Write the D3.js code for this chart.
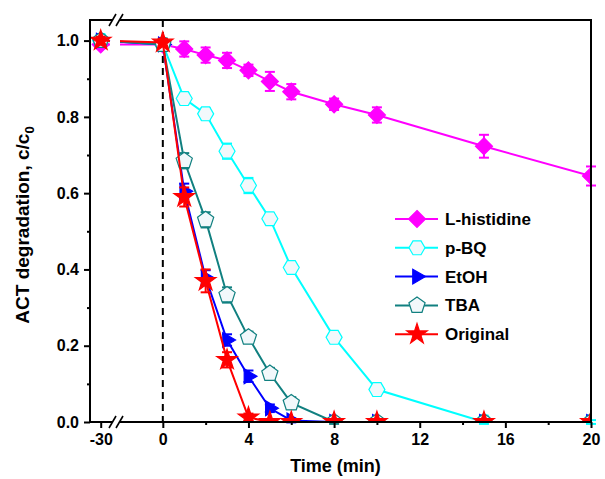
<!DOCTYPE html>
<head>
  <meta charset="utf-8">
  <script src="https://d3js.org/d3.v7.min.js"></script>
</head>
<body>
  <div id="chart"></div>

  <script>
    var width = 605;
    var height = 479;

    // sampling times (min), -30 is the dark adsorption point before the break
    var times = [-30, 0, 1, 2, 3, 4, 5, 6, 8, 10, 15, 20];

    // c/c0 for each scavenger
    var lhis = [0.99, 0.99, 0.978, 0.962, 0.948, 0.922, 0.893, 0.866, 0.833, 0.805, 0.723, 0.645];
    var pbq  = [1.0, 0.99, 0.848, 0.808, 0.71, 0.62, 0.533, 0.405, 0.222, 0.085, 0.0, 0.0];
    var etoh = [1.0, 0.99, 0.605, 0.378, 0.215, 0.12, 0.036, 0.004, 0.0, 0.0, 0.0, 0.0];
    var tba  = [1.0, 0.99, 0.685, 0.53, 0.333, 0.222, 0.127, 0.05, 0.0, 0.0, 0.0, 0.0];
    var orig = [1.0, 0.995, 0.59, 0.37, 0.163, 0.012, 0.0, 0.0, 0.0, 0.0, 0.0, 0.0];

    // error bars (+/-)
    var lhisErr = [0.01, 0.01, 0.02, 0.02, 0.02, 0.015, 0.025, 0.02, 0.015, 0.02, 0.03, 0.025];
    var pbqErr  = [0.01, 0.01, 0.015, 0.015, 0.02, 0.02, 0.015, 0.01, 0.01, 0.015, 0.005, 0.005];
    var etohErr = [0.01, 0.01, 0.02, 0.02, 0.015, 0.015, 0.01, 0.005, 0, 0, 0, 0];
    var tbaErr  = [0.01, 0.01, 0.02, 0.02, 0.02, 0.015, 0.015, 0.015, 0.005, 0, 0, 0];
    var origErr = [0.01, 0.01, 0.025, 0.03, 0.02, 0.01, 0, 0, 0, 0, 0, 0];

    var seriesNames = ['L-histidine', 'p-BQ', 'EtOH', 'TBA', 'Original'];

    var yTicks = [0, 0.2, 0.4, 0.6, 0.8, 1.0];
    var yMinor = [0.1, 0.3, 0.5, 0.7, 0.9];
    var xTicks = [0, 4, 8, 12, 16, 20];
    var xMinor = [2, 6, 10, 14, 18];
    var xLeftTicks = [-30];

    var series = [
      {name: seriesNames[0], vals: lhis, err: lhisErr, color: '#ff00ff', fill: '#ff00ff', shape: 'diamond'},
      {name: seriesNames[1], vals: pbq,  err: pbqErr,  color: '#00ffff', fill: '#f2f8fb', shape: 'hexagon'},
      {name: seriesNames[2], vals: etoh, err: etohErr, color: '#0000ff', fill: '#0000ff', shape: 'triangle'},
      {name: seriesNames[3], vals: tba,  err: tbaErr,  color: '#118080', fill: '#f2f8fb', shape: 'pentagon'},
      {name: seriesNames[4], vals: orig, err: origErr, color: '#ff0000', fill: '#ff0000', shape: 'star'}
    ];

    // plot box
    var pLeft = 90, pRight = 591, pTop = 20, pBottom = 422;

    // broken x axis: two linear pieces
    var xL = d3.scaleLinear().domain([-30.5, -29.45]).range([pLeft, pLeft + 22.5]);
    var xR = d3.scaleLinear().domain([-2, 20]).range([120, pRight]);
    var X = t => t < -10 ? xL(t) : xR(t);
    var y = d3.scaleLinear().domain([0, 1.054]).range([pBottom, pTop]);

    var svg = d3.select('#chart').append('svg')
      .attr('width', width).attr('height', height)
      .style('background', '#fff');

    // polygon markers
    function poly(n, r, rot) {
      var pts = d3.range(n).map(i => {
        var a = rot + i * 2 * Math.PI / n;
        return [r * Math.cos(a), r * Math.sin(a)];
      });
      return 'M' + pts.join('L') + 'Z';
    }
    function markerPath(shape) {
      if (shape == 'diamond') return poly(4, 8.5, -Math.PI / 2);
      if (shape == 'hexagon') return poly(6, 8, 0);
      if (shape == 'triangle') return poly(3, 8.5, 0);
      if (shape == 'pentagon') return poly(5, 8.5, -Math.PI / 2);
      return d3.symbol().type(d3.symbolStar).size(130)();
    }

    // clip out the break gap (lines) and the plot box (markers)
    var defs = svg.append('defs');
    var clip = defs.append('clipPath').attr('id', 'brk');
    clip.append('rect').attr('x', pLeft).attr('y', 0).attr('width', 20).attr('height', height);
    clip.append('rect').attr('x', 120).attr('y', 0).attr('width', pRight - 120).attr('height', height);
    defs.append('clipPath').attr('id', 'box')
      .append('rect').attr('x', pLeft).attr('y', pTop)
      .attr('width', pRight - pLeft).attr('height', pBottom - pTop);

    // dashed line at t = 0
    svg.append('line')
      .attr('x1', xR(0)).attr('x2', xR(0))
      .attr('y1', pTop).attr('y2', pBottom)
      .attr('stroke', '#000').attr('stroke-width', 2)
      .attr('stroke-dasharray', '7,5');

    var line = d3.line().x(d => X(d.t)).y(d => y(d.v));

    series.forEach(function(s) {
      var pts = times.map((t, i) => ({t: t, v: s.vals[i], e: s.err[i]}));
      var g = svg.append('g');

      g.append('path')
        .datum(pts)
        .attr('d', line)
        .attr('fill', 'none')
        .attr('stroke', s.color)
        .attr('stroke-width', 2)
        .attr('clip-path', 'url(#brk)');

      // error bars
      var eb = g.selectAll('.eb').data(pts.filter(d => d.e > 0)).join('g');
      eb.append('line')
        .attr('x1', d => X(d.t)).attr('x2', d => X(d.t))
        .attr('y1', d => y(d.v - d.e)).attr('y2', d => y(d.v + d.e))
        .attr('stroke', s.color).attr('stroke-width', 2);
      [-1, 1].forEach(function(sg) {
        eb.append('line')
          .attr('x1', d => X(d.t) - 5).attr('x2', d => X(d.t) + 5)
          .attr('y1', d => y(d.v + sg * d.e)).attr('y2', d => y(d.v + sg * d.e))
          .attr('stroke', s.color).attr('stroke-width', 2);
      });

      g.append('g').attr('clip-path', 'url(#box)')
        .selectAll('path').data(pts).join('path')
        .attr('transform', d => 'translate(' + X(d.t) + ',' + y(d.v) + ')')
        .attr('d', markerPath(s.shape))
        .attr('fill', s.fill)
        .attr('stroke', s.color)
        .attr('stroke-width', 1.2);
    });

    // frame
    svg.append('rect')
      .attr('x', pLeft).attr('y', pTop)
      .attr('width', pRight - pLeft).attr('height', pBottom - pTop)
      .attr('fill', 'none').attr('stroke', '#000').attr('stroke-width', 2);

    var tickFont = g => g.selectAll('text')
      .attr('font-family', 'Liberation Sans, Arial, sans-serif')
      .attr('font-weight', 'bold').attr('font-size', 16).attr('fill', '#000');

    // y axis
    svg.append('g').attr('transform', 'translate(' + pLeft + ',0)')
      .call(d3.axisLeft(y).tickValues(yTicks).tickSize(6).tickPadding(5).tickFormat(d3.format('.1f')))
      .call(g => g.select('.domain').remove())
      .call(g => g.selectAll('line').attr('stroke-width', 2))
      .call(tickFont);
    svg.append('g').attr('transform', 'translate(' + pLeft + ',0)')
      .call(d3.axisLeft(y).tickValues(yMinor).tickSize(3).tickFormat(''))
      .call(g => g.select('.domain').remove())
      .call(g => g.selectAll('line').attr('stroke-width', 2));

    // x axis, both pieces
    [[xR, xTicks], [xL, xLeftTicks]].forEach(function(p) {
      svg.append('g').attr('transform', 'translate(0,' + pBottom + ')')
        .call(d3.axisBottom(p[0]).tickValues(p[1]).tickSize(6).tickPadding(6).tickFormat(d => String(d)))
        .call(g => g.select('.domain').remove())
        .call(g => g.selectAll('line').attr('stroke-width', 2))
        .call(tickFont);
    });
    svg.append('g').attr('transform', 'translate(0,' + pBottom + ')')
      .call(d3.axisBottom(xR).tickValues(xMinor).tickSize(3).tickFormat(''))
      .call(g => g.select('.domain').remove())
      .call(g => g.selectAll('line').attr('stroke-width', 2));

    // axis break marks on top and bottom
    [pTop, pBottom].forEach(function(yy) {
      svg.append('rect').attr('x', 113).attr('y', yy - 2).attr('width', 7).attr('height', 4).attr('fill', '#fff');
      [112, 119].forEach(function(xx) {
        svg.append('line')
          .attr('x1', xx - 3).attr('y1', yy + 6)
          .attr('x2', xx + 4).attr('y2', yy - 6)
          .attr('stroke', '#000').attr('stroke-width', 1.6);
      });
    });

    // axis titles
    svg.append('text')
      .attr('x', (pLeft + pRight) / 2 - 5).attr('y', 472)
      .attr('text-anchor', 'middle')
      .attr('font-family', 'Liberation Sans, Arial, sans-serif')
      .attr('font-weight', 'bold').attr('font-size', 18)
      .text('Time (min)');

    var yt = svg.append('text')
      .attr('transform', 'translate(29,' + ((pTop + pBottom) / 2 + 4) + ') rotate(-90)')
      .attr('text-anchor', 'middle')
      .attr('font-family', 'Liberation Sans, Arial, sans-serif')
      .attr('font-weight', 'bold').attr('font-size', 19);
    yt.append('tspan').text('ACT degradation, c/c');
    yt.append('tspan').attr('font-size', 13).attr('dy', 5).text('0');

    // legend
    var lg = svg.append('g').attr('transform', 'translate(395,219)');
    var row = lg.selectAll('g').data(series).join('g')
      .attr('transform', (d, i) => 'translate(0,' + i * 28.8 + ')');
    row.append('line').attr('x1', 0).attr('x2', 43)
      .attr('stroke', d => d.color).attr('stroke-width', 2);
    row.append('path')
      .attr('transform', 'translate(22,0)')
      .attr('d', d => markerPath(d.shape))
      .attr('fill', d => d.fill).attr('stroke', d => d.color).attr('stroke-width', 1.2);
    row.append('text')
      .attr('x', 50).attr('dy', '0.35em')
      .attr('font-family', 'Liberation Sans, Arial, sans-serif')
      .attr('font-weight', 'bold').attr('font-size', 17)
      .text(d => d.name);
  </script>
</body>
<style>
  body { margin: 0; }
</style>
